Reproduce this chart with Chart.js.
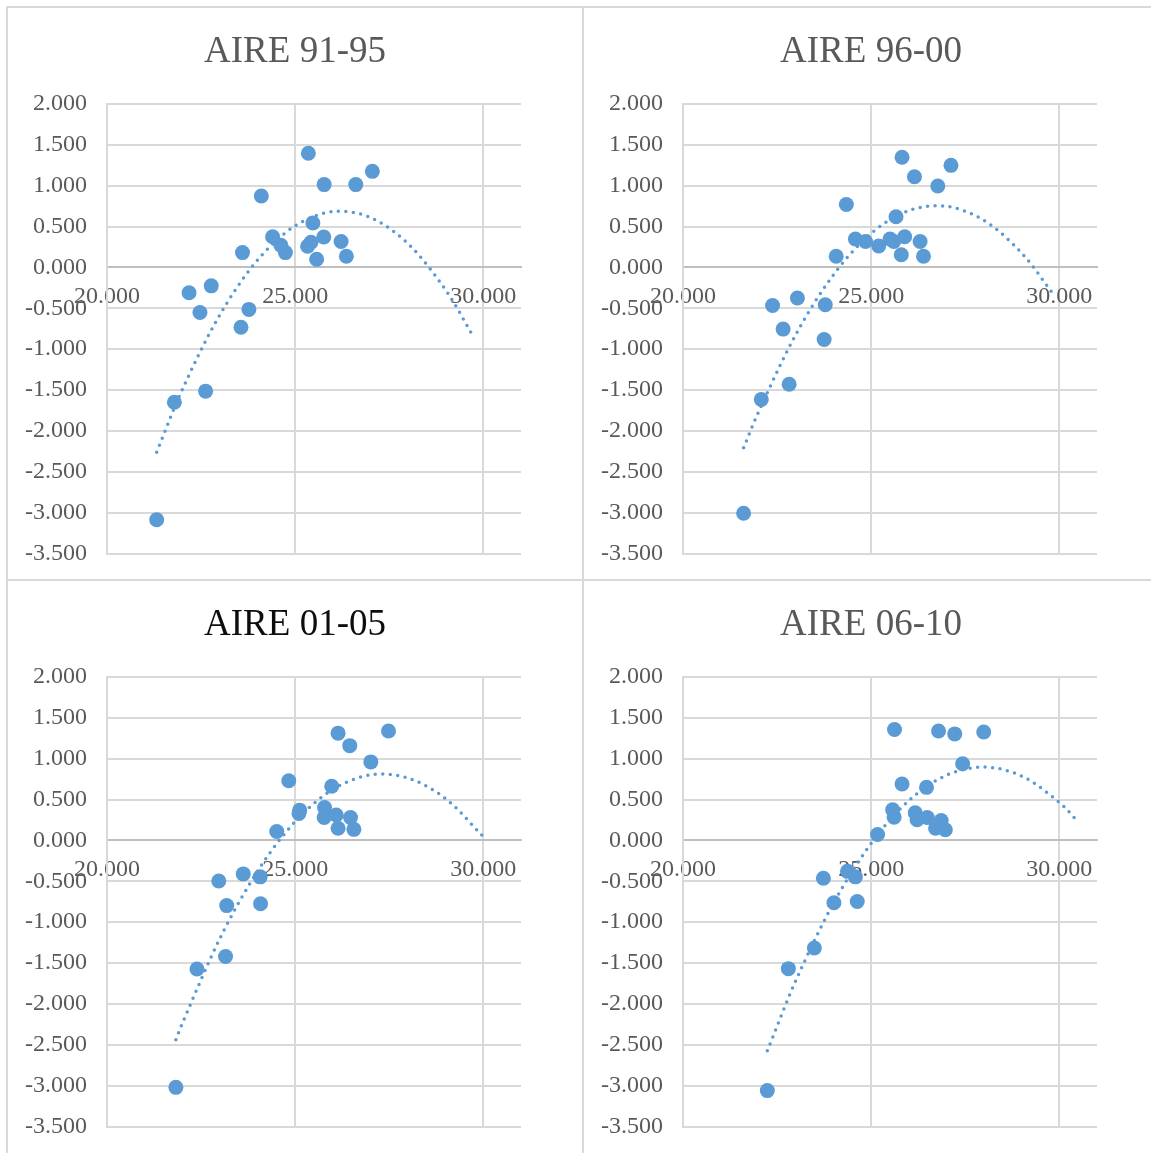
<!DOCTYPE html>
<html>
<head>
<meta charset="utf-8">
<title>AIRE</title>
<script src="https://cdn.jsdelivr.net/npm/chart.js@4.4.1/dist/chart.umd.min.js"></script>
<style>
  html, body { margin: 0; padding: 0; background: #fff; }
  body { width: 1151px; height: 1153px; position: relative; overflow: hidden; }
  .panel { position: absolute; width: 578px; height: 575px; border: 2px solid #d9d9d9; box-sizing: border-box; background: #fff; }
  .panel.low { height: 590px; }
  .panel canvas { display: block; }
</style>
</head>
<body>
<div class="panel" style="left:6px;top:6px"><canvas id="c0" width="574" height="571"></canvas></div>
<div class="panel" style="left:582px;top:6px"><canvas id="c1" width="574" height="571"></canvas></div>
<div class="panel low" style="left:6px;top:579px"><canvas id="c2" width="574" height="571"></canvas></div>
<div class="panel low" style="left:582px;top:579px"><canvas id="c3" width="574" height="571"></canvas></div>

<script>
// --- DATA ---
const titles = ['AIRE 91-95', 'AIRE 96-00', 'AIRE 01-05', 'AIRE 06-10'];

const xTicks = [20, 25, 30];
const yTicks = [-3.5, -3, -2.5, -2, -1.5, -1, -0.5, 0, 0.5, 1, 1.5, 2];

// AIRE 91-95
const x9195 = [21.32, 21.79, 22.18, 22.47, 22.62, 22.77, 23.56, 23.60, 23.77, 24.10, 24.40, 24.62,
               24.74, 25.35, 25.33, 25.42, 25.47, 25.57, 25.76, 25.77, 26.22, 26.36, 26.61, 27.05];
const y9195 = [-3.087, -1.649, -0.311, -0.551, -1.514, -0.226, -0.732, 0.181, -0.514, 0.873, 0.375, 0.271,
               0.181, 1.397, 0.258, 0.308, 0.543, 0.100, 0.371, 1.013, 0.317, 0.136, 1.013, 1.175];
const trendX9195 = [21.32, 22, 23, 24, 25, 26, 27, 28, 29, 29.72];
const trendY9195 = [-2.260, -1.494, -0.579, 0.089, 0.509, 0.683, 0.610, 0.289, -0.278, -0.835];

// AIRE 96-00
const x9600 = [21.61, 22.08, 22.38, 22.66, 22.82, 23.04, 23.75, 23.78, 24.07, 24.34, 24.58, 24.85,
               25.20, 25.50, 25.60, 25.66, 25.80, 25.82, 25.89, 26.15, 26.30, 26.39, 26.77, 27.12];
const y9600 = [-3.008, -1.615, -0.466, -0.755, -1.429, -0.375, -0.882, -0.457, 0.136, 0.769, 0.348, 0.317,
               0.262, 0.348, 0.317, 0.620, 0.154, 1.348, 0.375, 1.108, 0.317, 0.136, 0.995, 1.248];
const trendX9600 = [21.61, 22, 23, 24, 25, 26, 27, 28, 29, 29.82];
const trendY9600 = [-2.207, -1.775, -0.819, -0.089, 0.416, 0.694, 0.747, 0.574, 0.175, -0.317];

// AIRE 01-05
const x0105 = [21.83, 22.39, 22.97, 23.18, 23.15, 23.62, 24.07, 24.08, 24.51, 24.83, 25.12, 25.10,
               25.78, 25.77, 25.97, 26.09, 26.14, 26.14, 26.45, 26.47, 26.56, 27.01, 27.48];
const y0105 = [-3.021, -1.573, -0.496, -0.798, -1.420, -0.410, -0.446, -0.775, 0.108, 0.730, 0.370, 0.330,
               0.401, 0.280, 0.663, 0.311, 0.149, 1.312, 1.159, 0.280, 0.135, 0.960, 1.339];
const trendX0105 = [21.83, 22, 23, 24, 25, 26, 27, 28, 29, 29.98];
const trendY0105 = [-2.439, -2.239, -1.200, -0.377, 0.231, 0.624, 0.801, 0.763, 0.509, 0.054];

// AIRE 06-10
const x0610 = [22.24, 22.80, 23.49, 23.73, 24.01, 24.37, 24.58, 24.63, 25.17, 25.57, 25.61, 25.62,
               25.82, 26.17, 26.22, 26.47, 26.49, 26.71, 26.86, 26.97, 26.79, 27.22, 27.43, 27.99];
const y0610 = [-3.061, -1.569, -1.317, -0.464, -0.762, -0.379, -0.446, -0.748, 0.072, 0.374, 0.284, 1.357,
               0.690, 0.338, 0.252, 0.649, 0.280, 0.149, 0.243, 0.131, 1.339, 1.303, 0.938, 1.326];
const trendX0610 = [22.24, 23, 24, 25, 26, 27, 28, 29, 30, 30.44];
const trendY0610 = [-2.574, -1.712, -0.768, -0.036, 0.486, 0.797, 0.897, 0.787, 0.465, 0.257];

// --- STYLE ---
const BLUE = '#5b9bd5';
const GRID = '#d9d9d9';
const AXIS = '#bfbfbf';
const TEXT = '#595959';
const SERIF = "'Liberation Serif', 'Times New Roman', serif";
const titleColors = [TEXT, TEXT, '#0d0d0d', TEXT];

// title box spans the whole canvas, not just the padded part
const centreTitle = {
    id: 'centreTitle',
    afterLayout(chart) {
        const t = chart.titleBlock;
        if (t) {
            t.left = 0;
            t.right = chart.width;
            t.width = chart.width;
        }
    }
};

function pairs(xs, ys) {
    return xs.map((x, i) => ({ x: x, y: ys[i] }));
}

function makeChart(id, idx, xs, ys, tx, ty) {
    const ctx = document.getElementById(id).getContext('2d');
    return new Chart(ctx, {
        type: 'scatter',
        data: {
            datasets: [
                {
                    data: pairs(xs, ys),
                    backgroundColor: BLUE,
                    borderColor: BLUE,
                    pointRadius: 7.5,
                    pointHoverRadius: 7.5,
                    pointBorderWidth: 0,
                    order: 1
                },
                {
                    data: pairs(tx, ty),
                    showLine: true,
                    pointRadius: 0,
                    borderColor: BLUE,
                    borderWidth: 3.5,
                    borderDash: [0, 7.5],
                    borderCapStyle: 'round',
                    tension: 0.33,
                    fill: false,
                    order: 0
                }
            ]
        },
        plugins: [centreTitle],
        options: {
            responsive: false,
            animation: false,
            devicePixelRatio: 1,
            layout: { padding: { left: 0, right: 61, top: 0, bottom: 25.5 } },
            plugins: {
                legend: { display: false },
                tooltip: { enabled: false },
                title: {
                    display: true,
                    text: titles[idx],
                    color: titleColors[idx],
                    font: { family: SERIF, size: 37, weight: 'normal', lineHeight: 1.2 },
                    padding: { top: 22.5, bottom: 29 }
                }
            },
            scales: {
                x: {
                    type: 'linear',
                    min: 20,
                    max: 31,
                    position: { y: 0 },
                    afterBuildTicks: s => { s.ticks = xTicks.map(v => ({ value: v })); },
                    afterFit: s => { s.height = 0; },
                    grid: { color: GRID, lineWidth: 2, drawTicks: false },
                    border: { color: AXIS, width: 2 },
                    ticks: {
                        padding: 15,
                        color: TEXT,
                        autoSkip: false,
                        maxRotation: 0,
                        font: { family: SERIF, size: 24 },
                        callback: v => Number(v).toFixed(3)
                    }
                },
                y: {
                    type: 'linear',
                    min: -3.5,
                    max: 2,
                    afterBuildTicks: s => { s.ticks = yTicks.map(v => ({ value: v })); },
                    afterFit: s => {
                        s.width = 99;
                        s.paddingTop = 0;
                        s.paddingBottom = 0;
                    },
                    grid: {
                        color: c => (c.tick && c.tick.value === 0) ? AXIS : GRID,
                        lineWidth: 2,
                        drawTicks: false
                    },
                    border: { color: GRID, width: 2 },
                    ticks: {
                        padding: 20,
                        color: TEXT,
                        font: { family: SERIF, size: 24 },
                        callback: v => Number(v).toFixed(3)
                    }
                }
            }
        }
    });
}

makeChart('c0', 0, x9195, y9195, trendX9195, trendY9195);
makeChart('c1', 1, x9600, y9600, trendX9600, trendY9600);
makeChart('c2', 2, x0105, y0105, trendX0105, trendY0105);
makeChart('c3', 3, x0610, y0610, trendX0610, trendY0610);
</script>
</body>
</html>
